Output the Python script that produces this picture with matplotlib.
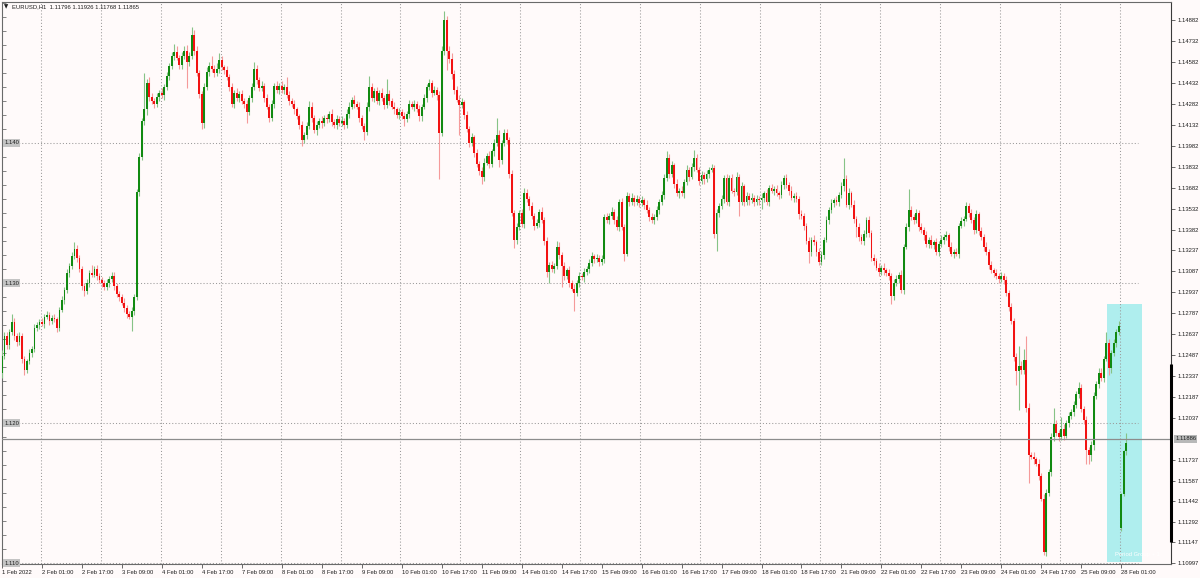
import matplotlib
matplotlib.use("Agg")
import matplotlib.pyplot as plt
import matplotlib.transforms as mtransforms
import numpy as np
from matplotlib.patches import Rectangle
from matplotlib.ticker import MultipleLocator

plt.rcParams["font.family"] = ["Liberation Sans", "DejaVu Sans"]

BASE = 1.1000
PIP = 0.0001

# EURUSD H1, prices in pips above 1.1000. Each bar opens at the previous
# close; the first bar of each week opens at week_open.
week_open = [236, 459, 350, 315, 125]

# week of 1-4 Feb
close_w1 = [248, 262, 256, 265, 272, 262, 258, 262, 246, 238, 244, 250, 253, 268, 270, 272,
            271, 276, 277, 273, 275, 274, 268, 281, 288, 295, 307, 312, 319, 324, 318, 310,
            298, 294, 300, 307, 306, 310, 305, 302, 300, 297, 300, 303, 305, 298, 292, 290,
            286, 282, 278, 276, 280, 290, 365, 390, 416, 424, 443, 433, 430, 428, 433, 436,
            434, 440, 448, 455, 462, 465, 461, 456, 462, 466, 458, 462, 477, 466, 450, 435,
            414, 440, 451, 455, 453, 450, 453, 459]
up_w1 = [4, 3, 3, 2, 6, 3, 2, 3, 2, 2, 2, 3, 2, 3, 2, 2,
         3, 2, 3, 2, 2, 3, 2, 2, 3, 2, 3, 2, 3, 5, 3, 2,
         2, 2, 3, 2, 6, 2, 3, 2, 2, 2, 3, 2, 3, 3, 2, 2,
         2, 3, 2, 2, 3, 2, 2, 3, 2, 26, 3, 4, 3, 2, 3, 2,
         3, 2, 3, 2, 3, 6, 4, 2, 3, 3, 4, 3, 6, 4, 3, 2,
         2, 3, 3, 3, 7, 3, 4, 5]
lo_w1 = [4, 2, 3, 3, 2, 3, 3, 2, 3, 4, 2, 2, 3, 2, 2, 3,
         2, 3, 2, 3, 2, 2, 3, 2, 2, 3, 2, 3, 2, 2, 3, 2,
         3, 3, 2, 3, 2, 2, 3, 2, 3, 2, 2, 3, 2, 3, 2, 3,
         2, 3, 3, 2, 10, 3, 2, 3, 2, 3, 4, 3, 2, 3, 2, 3,
         2, 3, 2, 3, 2, 3, 2, 3, 3, 2, 19, 3, 2, 3, 2, 3,
         4, 3, 2, 3, 2, 3, 2, 3]

# week of 7-11 Feb
close_w2 = [454, 452, 447, 440, 428, 436, 432, 435, 430, 428, 422, 432, 440, 453, 445, 439,
            441, 432, 426, 418, 428, 441, 438, 441, 438, 440, 434, 430, 428, 424, 419, 413,
            402, 406, 412, 426, 418, 409, 413, 416, 414, 418, 417, 421, 415, 413, 417, 414,
            416, 413, 421, 426, 431, 428, 426, 418, 412, 408, 426, 440, 432, 437, 430, 436,
            432, 427, 435, 430, 426, 424, 420, 422, 419, 417, 421, 428, 426, 428, 424, 419,
            426, 432, 440, 443, 436, 438, 434, 407, 466, 488, 466, 460, 449, 438, 431, 427,
            429, 420, 410, 400, 404, 393, 385, 380, 376, 386, 391, 385, 394, 400, 406, 388,
            400, 407, 402, 378, 350, 331, 340, 350]
up_w2 = [3, 2, 3, 2, 3, 2, 3, 2, 3, 2, 3, 2, 3, 5, 3, 2,
         3, 2, 3, 2, 3, 2, 3, 2, 3, 2, 7, 3, 2, 3, 2, 2,
         3, 2, 3, 4, 3, 2, 3, 2, 3, 2, 3, 2, 3, 2, 3, 2,
         3, 2, 3, 3, 2, 3, 2, 3, 2, 2, 3, 8, 3, 2, 3, 2,
         3, 2, 11, 3, 2, 3, 2, 3, 2, 3, 2, 3, 2, 3, 2, 3,
         2, 3, 2, 3, 2, 3, 2, 3, 3, 6, 3, 3, 4, 3, 3, 3,
         3, 2, 3, 2, 3, 2, 3, 2, 3, 3, 2, 3, 2, 3, 12, 3,
         2, 3, 3, 2, 3, 2, 3, 2]
lo_w2 = [2, 3, 2, 3, 2, 3, 2, 3, 2, 3, 8, 2, 3, 2, 3, 2,
         2, 3, 2, 3, 2, 3, 2, 3, 2, 3, 2, 3, 2, 3, 2, 3,
         4, 2, 3, 2, 3, 2, 3, 2, 3, 2, 3, 2, 3, 2, 3, 2,
         2, 3, 2, 3, 2, 3, 2, 3, 2, 6, 2, 3, 2, 3, 2, 3,
         2, 3, 2, 3, 2, 3, 2, 3, 2, 5, 2, 3, 2, 3, 2, 3,
         3, 2, 3, 2, 3, 2, 3, 33, 2, 3, 14, 3, 3, 3, 2, 21,
         2, 3, 2, 3, 2, 3, 2, 3, 5, 3, 2, 3, 2, 3, 2, 5,
         3, 2, 3, 3, 2, 6, 3, 2]

# week of 14-18 Feb
close_w3 = [342, 364, 360, 355, 348, 341, 343, 351, 345, 330, 308, 313, 310, 312, 326, 320,
            312, 305, 309, 300, 296, 293, 300, 305, 304, 308, 310, 314, 319, 317, 318, 315,
            317, 347, 345, 348, 351, 345, 340, 358, 340, 321, 362, 358, 361, 358, 360, 357,
            359, 356, 352, 347, 345, 347, 352, 358, 363, 375, 389, 378, 384, 371, 364, 366,
            364, 372, 381, 376, 383, 389, 381, 373, 377, 374, 378, 381, 382, 335, 350, 355,
            360, 375, 358, 375, 366, 365, 376, 358, 369, 358, 362, 359, 361, 358, 360, 359,
            361, 364, 358, 368, 366, 367, 364, 363, 370, 375, 370, 366, 361, 362, 360, 349,
            348, 341, 330, 322, 331, 329, 322, 315]
up_w3 = [3, 4, 3, 2, 3, 2, 3, 2, 3, 2, 3, 2, 3, 2, 4, 3,
         2, 3, 2, 3, 2, 3, 2, 3, 2, 3, 2, 3, 3, 2, 3, 2,
         3, 2, 3, 2, 3, 2, 3, 2, 3, 2, 3, 2, 3, 2, 3, 2,
         3, 2, 3, 2, 3, 2, 3, 2, 3, 3, 5, 3, 3, 2, 3, 2,
         3, 2, 3, 2, 3, 6, 3, 2, 3, 2, 3, 2, 3, 2, 3, 2,
         3, 2, 3, 2, 3, 2, 3, 2, 3, 2, 3, 2, 3, 2, 3, 2,
         3, 2, 3, 2, 3, 2, 3, 2, 3, 2, 3, 2, 3, 2, 3, 2,
         3, 2, 2, 3, 2, 3, 2, 3]
lo_w3 = [2, 3, 2, 3, 2, 3, 2, 3, 2, 3, 4, 8, 2, 3, 2, 3,
         15, 3, 2, 3, 2, 13, 2, 3, 2, 3, 2, 3, 2, 3, 2, 3,
         2, 3, 2, 3, 2, 3, 2, 3, 2, 5, 2, 3, 2, 3, 2, 3,
         2, 3, 2, 3, 2, 3, 2, 3, 2, 3, 2, 3, 2, 3, 2, 3,
         2, 3, 2, 3, 2, 3, 2, 3, 2, 3, 2, 3, 2, 3, 12, 3,
         2, 3, 2, 3, 2, 3, 2, 10, 2, 3, 2, 3, 2, 3, 2, 3,
         6, 3, 2, 3, 2, 3, 2, 3, 2, 3, 2, 3, 2, 3, 2, 3,
         2, 3, 2, 8, 3, 2, 3, 2]

# week of 21-25 Feb
close_w4 = [320, 331, 345, 352, 357, 359, 358, 363, 369, 374, 356, 364, 356, 346, 340, 333,
            330, 335, 345, 336, 318, 316, 311, 308, 311, 309, 307, 305, 291, 300, 303, 306,
            295, 326, 340, 352, 347, 345, 350, 340, 338, 334, 328, 331, 327, 329, 322, 328,
            331, 333, 334, 326, 321, 322, 321, 341, 344, 346, 355, 350, 345, 338, 349, 337,
            333, 326, 322, 313, 309, 307, 305, 303, 305, 302, 293, 283, 273, 247, 237, 241,
            238, 245, 211, 177, 176, 174, 171, 162, 146, 108, 150, 165, 190, 199, 193, 190,
            196, 191, 200, 205, 208, 213, 221, 225, 210, 202, 181, 177, 184, 219, 228, 236,
            232, 246, 257, 239, 250, 257, 265, 269]
up_w4 = [3, 2, 3, 2, 3, 2, 3, 2, 3, 15, 3, 4, 2, 3, 2, 3,
         2, 3, 2, 3, 2, 3, 2, 3, 2, 3, 2, 3, 2, 3, 3, 2,
         3, 2, 3, 15, 3, 2, 3, 2, 3, 2, 3, 2, 3, 2, 3, 2,
         3, 2, 3, 2, 3, 2, 3, 2, 3, 2, 3, 2, 3, 2, 3, 2,
         3, 2, 3, 2, 3, 2, 3, 2, 3, 2, 3, 2, 3, 2, 3, 14,
         3, 8, 17, 3, 2, 3, 2, 3, 2, 3, 3, 2, 3, 12, 3, 2,
         8, 3, 2, 3, 2, 3, 2, 4, 3, 2, 3, 2, 3, 3, 2, 3,
         3, 2, 8, 3, 2, 3, 2, 4]
lo_w4 = [2, 3, 2, 3, 2, 3, 2, 3, 2, 3, 2, 3, 2, 3, 7, 3,
         2, 3, 2, 3, 2, 3, 2, 3, 2, 3, 2, 3, 6, 3, 2, 3,
         2, 3, 2, 3, 2, 3, 2, 3, 2, 3, 2, 3, 2, 3, 2, 3,
         2, 3, 2, 3, 2, 3, 2, 3, 2, 3, 2, 3, 2, 3, 2, 3,
         2, 3, 2, 3, 2, 3, 2, 3, 2, 3, 2, 3, 2, 3, 10, 28,
         3, 3, 3, 20, 2, 3, 2, 3, 2, 2, 3, 2, 3, 3, 2, 3,
         2, 3, 2, 3, 2, 3, 2, 3, 2, 3, 10, 6, 4, 3, 2, 3,
         2, 3, 2, 5, 3, 2, 3, 2]

# 28 Feb (after the weekend gap)
close_w5 = [149, 180, 186]
up_w5 = [1, 1, 7]
lo_w5 = [2, 1, 3]

x_labels = ["1 Feb 2022", "2 Feb 01:00", "2 Feb 17:00", "3 Feb 09:00", "4 Feb 01:00",
            "4 Feb 17:00", "7 Feb 09:00", "8 Feb 01:00", "8 Feb 17:00", "9 Feb 09:00",
            "10 Feb 01:00", "10 Feb 17:00", "11 Feb 09:00", "14 Feb 01:00", "14 Feb 17:00",
            "15 Feb 09:00", "16 Feb 01:00", "16 Feb 17:00", "17 Feb 09:00", "18 Feb 01:00",
            "18 Feb 17:00", "21 Feb 09:00", "22 Feb 01:00", "22 Feb 17:00", "23 Feb 09:00",
            "24 Feb 01:00", "24 Feb 17:00", "25 Feb 09:00", "28 Feb 01:00"]
price_ticks = [1.14882, 1.14732, 1.14582, 1.14432, 1.14282, 1.14132, 1.13982, 1.13832,
               1.13682, 1.13532, 1.13382, 1.13237, 1.13087, 1.12937, 1.12787, 1.12637,
               1.12487, 1.12337, 1.12187, 1.12037, 1.11737, 1.11587, 1.11442, 1.11292,
               1.11147, 1.10997]
grid_prices = [1.140, 1.130, 1.120, 1.110]
bid = 1.11886
title_ohlc = "1.11796 1.11926 1.11768 1.11865"
range_bar = (1.11152, 1.12419)
period_box = (1.11007, 1.1285)

BULL, BEAR = "#118a11", "#f21212"
BULL_WICK, BEAR_WICK = "#86c386", "#f59a9a"
BG = "#fffafa"
TXT = "#1e1e1e"
FS = 4.2

weeks = [(close_w1, up_w1, lo_w1), (close_w2, up_w2, lo_w2), (close_w3, up_w3, lo_w3),
         (close_w4, up_w4, lo_w4), (close_w5, up_w5, lo_w5)]
o, c, h, l = [], [], [], []
for (cl, up, lo), first in zip(weeks, week_open):
    assert len(cl) == len(up) == len(lo)
    prev = first
    for cc, u, d in zip(cl, up, lo):
        o.append(prev)
        c.append(cc)
        h.append(max(prev, cc) + u)
        l.append(min(prev, cc) - d)
        prev = cc
o, c, h, l = [BASE + np.array(v) * PIP for v in (o, c, h, l)]
x = np.arange(len(c))
rise = c >= o

fig = plt.figure(figsize=(12, 5.78), dpi=100, facecolor=BG)
ax = fig.add_axes([2 / 1200, 14 / 578, 1169 / 1200, 562 / 578], facecolor=BG)
ax.set_xlim(0.3, 467.9)
ax.set_ylim(1.109929, 1.150071)

dots = (0, (1, 2))
ax.add_patch(Rectangle((442.3, period_box[0]), 14.0, period_box[1] - period_box[0],
                       facecolor="#afeeee", edgecolor="none", zorder=1))
for gx in range(15, 460, 24):
    ax.axvline(gx + 0.5, color="#9a9a9a", lw=0.75, ls=dots, zorder=2)
ax.hlines(grid_prices, 0.3, 454.7, color="#9a9a9a", lw=0.75, linestyles=[dots], zorder=2)

ax.vlines(x[rise], l[rise], h[rise], color=BULL_WICK, lw=0.8, zorder=3)
ax.vlines(x[~rise], l[~rise], h[~rise], color=BEAR_WICK, lw=0.8, zorder=3)
body = np.maximum(np.abs(c - o), 0.4 * PIP)
bottom = np.minimum(o, c)
ax.bar(x[rise], body[rise], bottom=bottom[rise], width=0.75, color=BULL, lw=0, zorder=4)
ax.bar(x[~rise], body[~rise], bottom=bottom[~rise], width=0.75, color=BEAR, lw=0, zorder=4)

ax.axhline(bid, color="#8c8c8c", lw=0.9, zorder=5)

ax.text(445.5, 1.11062, "Period Group + 1", color="white", fontsize=FS, va="center",
        ha="left", zorder=6, clip_on=True)

for p in grid_prices:
    ax.text(0.9, p, f"{p:.3f}", fontsize=FS, color=TXT, va="center", ha="left", zorder=6,
            clip_on=False,
            bbox=dict(boxstyle="square,pad=0.2", fc="#c4c4c4", ec="none"))

blend = mtransforms.blended_transform_factory(ax.transAxes, ax.transData)
ax.text(1.0035, bid, f"{bid:.5f}", transform=blend, fontsize=FS, color=TXT, va="center",
        ha="left", clip_on=False,
        bbox=dict(boxstyle="square,pad=0.2", fc="#b8b8b8", ec="none"))
ax.plot([1.0, 1.0], list(range_bar), transform=blend, color="black", lw=2.2,
        solid_capstyle="butt", clip_on=False, zorder=7)

ax.set_xticks(range(0, 16 * len(x_labels), 16))
ax.set_xticklabels(x_labels, ha="left")
ax.tick_params(axis="x", direction="out", length=3, width=0.6, pad=1.5,
               labelsize=FS, colors="#505050", labelcolor=TXT)

ax.set_yticks(price_ticks)
ax.set_yticklabels([f"{p:.5f}" for p in price_ticks])
ax.yaxis.set_minor_locator(MultipleLocator(0.001))
ax.tick_params(axis="y", which="major", left=False, right=True, labelleft=False,
               labelright=True, direction="out", length=3, width=0.6, pad=2,
               labelsize=FS, colors="#505050", labelcolor=TXT)
ax.tick_params(axis="y", which="minor", left=True, right=False, direction="in",
               length=3, width=0.6, colors="#707070")

for side, sp in ax.spines.items():
    sp.set_color("#6a6a6a")
    sp.set_linewidth(0.8)
ax.spines["right"].set_color("#3a3a3a")

fig.text(4 / 1200, 1 - 7 / 578, "\u25bc", fontsize=4, color=TXT, va="center", ha="left",
         family="DejaVu Sans")
fig.text(12 / 1200, 1 - 7 / 578, "EURUSD,H1  " + title_ohlc, fontsize=FS, color=TXT,
         va="center", ha="left")

fig.savefig("out.png", dpi=100, facecolor=BG)
